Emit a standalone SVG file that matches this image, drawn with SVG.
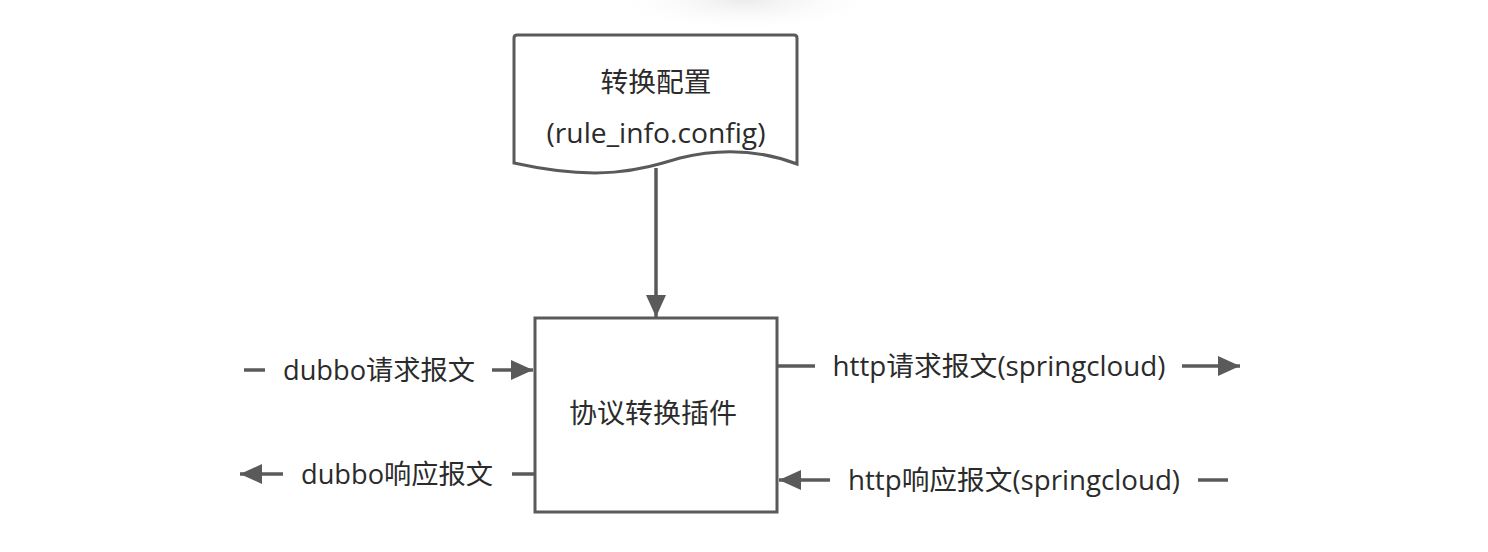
<svg xmlns="http://www.w3.org/2000/svg" width="1488" height="552" viewBox="0 0 1488 552">
<style>
.ln{stroke:#5a5a5a;stroke-width:3.5;fill:none}
.shape{stroke:#5a5a5a;stroke-width:3;fill:#ffffff}
.t{font-family:"Open Sans","Noto Sans CJK SC",sans-serif;font-size:27px;fill:#2b2b2b;text-anchor:middle}
</style>
<defs>
<radialGradient id="sh" cx="0.5" cy="0.5" r="0.5">
<stop offset="0" stop-color="#e9e9e9" stop-opacity="0.9"/>
<stop offset="1" stop-color="#ffffff" stop-opacity="0"/>
</radialGradient>
<marker id="ah" viewBox="0 0 22 20" refX="22" refY="10" markerWidth="22" markerHeight="20" markerUnits="userSpaceOnUse" orient="auto">
<path d="M0,0 L22,10 L0,20 Z" fill="#5a5a5a"/>
</marker>
</defs>
<rect width="1488" height="552" fill="#ffffff"/>
<ellipse cx="745" cy="0" rx="140" ry="32" fill="url(#sh)"/>
<g id="connectors">
<line class="ln" x1="656" y1="168" x2="656" y2="317" marker-end="url(#ah)"/>
<line class="ln" x1="244" y1="370" x2="265" y2="370"/>
<line class="ln" x1="492" y1="370" x2="533" y2="370" marker-end="url(#ah)"/>
<line class="ln" x1="512" y1="474" x2="535" y2="474"/>
<line class="ln" x1="283" y1="474" x2="240" y2="474" marker-end="url(#ah)"/>
<line class="ln" x1="777" y1="366" x2="815" y2="366"/>
<line class="ln" x1="1182" y1="366" x2="1240" y2="366" marker-end="url(#ah)"/>
<line class="ln" x1="1228" y1="480" x2="1198" y2="480"/>
<line class="ln" x1="830" y1="480" x2="779" y2="480" marker-end="url(#ah)"/>
<text class="t" x="379" y="380" textLength="192" lengthAdjust="spacingAndGlyphs">dubbo请求报文</text>
<text class="t" x="397" y="484" textLength="192" lengthAdjust="spacingAndGlyphs">dubbo响应报文</text>
<text class="t" x="999" y="376" textLength="333" lengthAdjust="spacingAndGlyphs">http请求报文(springcloud)</text>
<text class="t" x="1014" y="490" textLength="332" lengthAdjust="spacingAndGlyphs">http响应报文(springcloud)</text>
</g>
<g id="config">
<path class="shape" d="M517,35 L794,35 Q797,35 797,38 L797,164 C760,150 720,148 680,158 C640,170 600,182 514,163 L514,38 Q514,35 517,35 Z"/>
<text class="t" x="656" y="92" textLength="111" lengthAdjust="spacingAndGlyphs">转换配置</text>
<text class="t" x="656" y="143" textLength="219" lengthAdjust="spacingAndGlyphs">(rule_info.config)</text>
</g>
<g id="plugin">
<rect class="shape" x="535" y="318" width="242" height="194"/>
<text class="t" x="653" y="423" textLength="168" lengthAdjust="spacingAndGlyphs">协议转换插件</text>
</g>
</svg>
